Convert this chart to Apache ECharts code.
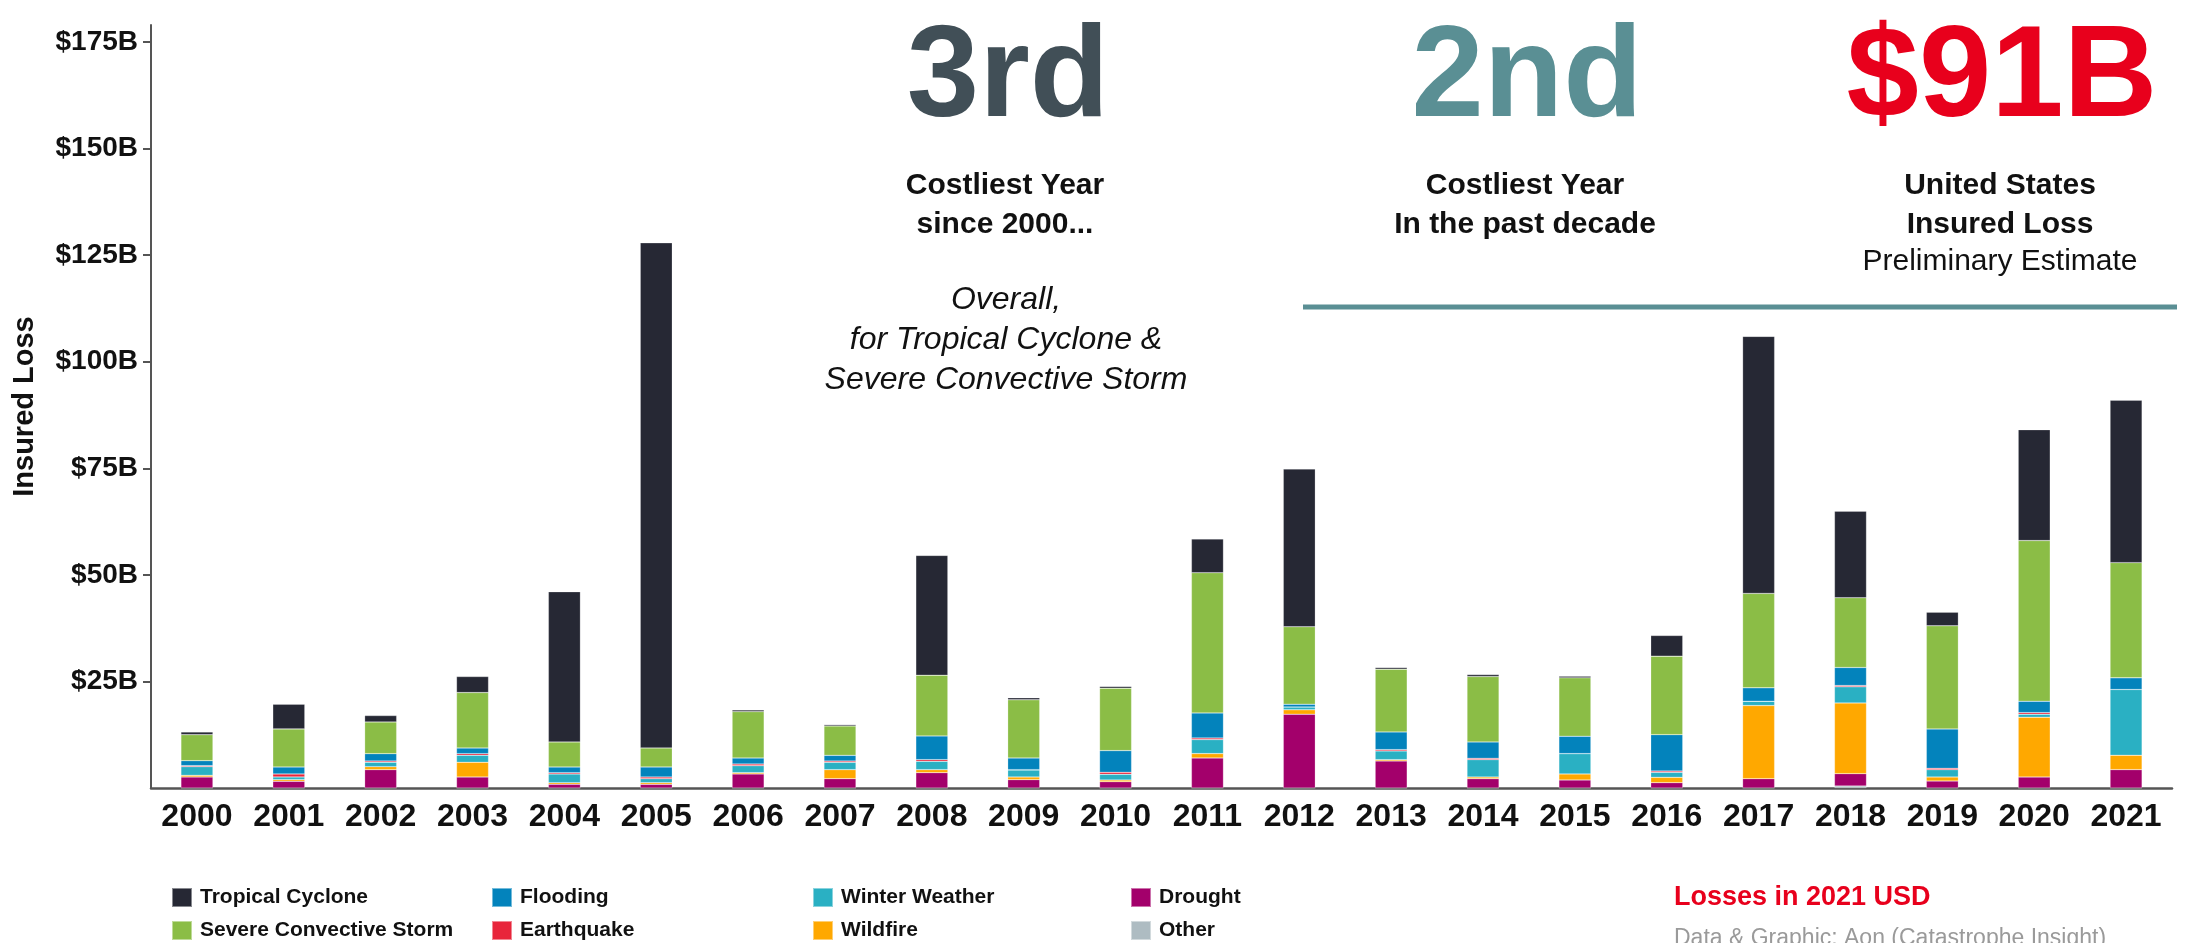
<!DOCTYPE html>
<html>
<head>
<meta charset="utf-8">
<title>US Insured Loss</title>
<script src="https://cdn.jsdelivr.net/npm/echarts@6/dist/echarts.min.js"></script>
<style>
    html, body {
        margin: 0;
        padding: 0;
        background: #fff;
    }
    #chart {
        width: 2188px;
        height: 943px;
    }
</style>
</head>
<body>
<div id="chart"></div>
<script>
// years on the x axis
const years = ['2000', '2001', '2002', '2003', '2004', '2005', '2006', '2007', '2008', '2009', '2010',
    '2011', '2012', '2013', '2014', '2015', '2016', '2017', '2018', '2019', '2020', '2021'];

// insured loss per peril, $B
const other = [0, 0, 0, 0, 0, 0, 0, 0, 0, 0, 0, 0, 0, 0, 0, 0, 0, 0, 0.47, 0, 0, 0];
const drought = [2.58, 1.57, 4.31, 2.58, 0.86, 0.86, 3.29, 2.19, 3.6, 1.96, 1.49, 7.05, 17.31, 6.34, 2.19, 1.88, 1.25, 2.19, 2.9, 1.64, 2.58, 4.31];
const wildfire = [0.39, 0.39, 0.7, 3.45, 0.39, 0.39, 0.31, 2.11, 0.7, 0.63, 0.39, 1.02, 1.02, 0.31, 0.39, 1.41, 1.25, 17.15, 16.6, 0.94, 14.02, 3.37];
const winterWeather = [2.04, 0.63, 1.02, 1.64, 2.04, 0.94, 1.64, 1.72, 1.96, 1.64, 1.33, 3.29, 0.7, 2.04, 4.07, 4.78, 1.17, 1.02, 3.76, 1.72, 0.7, 15.43];
const earthquake = [0.23, 0.7, 0.31, 0.39, 0.31, 0.39, 0.39, 0.31, 0.39, 0.08, 0.47, 0.39, 0, 0.31, 0.31, 0, 0.31, 0, 0.31, 0.31, 0.39, 0];
const flooding = [1.17, 1.64, 1.72, 1.33, 1.33, 2.35, 1.41, 1.33, 5.56, 2.74, 5.09, 5.87, 0.63, 4.15, 3.84, 4.07, 8.54, 3.13, 4.23, 9.24, 2.66, 2.74];
const severeStorm = [6.1, 8.93, 7.44, 13.0, 5.87, 4.46, 10.88, 6.89, 14.25, 13.63, 14.64, 32.89, 18.17, 14.72, 15.35, 13.7, 18.4, 22.16, 16.37, 24.2, 37.7, 27.02];
const tropicalCyclone = [0.63, 5.79, 1.49, 3.76, 35.24, 118.5, 0.39, 0.31, 28.1, 0.47, 0.39, 7.9, 37.0, 0.39, 0.47, 0.39, 4.86, 60.3, 20.3, 3.21, 26.0, 38.1];

// y axis ticks (no label at zero)
const yTicks = [25, 50, 75, 100, 125, 150, 175];

const FONT = '"Liberation Sans", Arial, Helvetica, sans-serif';

function bar(name, color, data) {
    return {
        name: name,
        type: 'bar',
        stack: 'total',
        barWidth: 32,
        itemStyle: {
            color: color,
            borderColor: 'rgba(255,255,255,0.45)',
            borderWidth: 0.5
        },
        emphasis: { disabled: true },
        data: data
    };
}

function legendCol(left, names) {
    return {
        orient: 'vertical',
        left: left,
        top: 887,
        padding: 0,
        itemGap: 12,
        itemWidth: 20,
        itemHeight: 19,
        icon: 'rect',
        selectedMode: false,
        textStyle: {
            fontFamily: FONT,
            fontSize: 21,
            fontWeight: 'bold',
            color: '#111',
            padding: [0, 0, 0, 3]
        },
        data: names
    };
}

let myChart = echarts.init(document.getElementById('chart'));

myChart.setOption({
    animation: false,
    grid: {
        left: 151,
        right: 16,
        top: 25,
        bottom: 155,
        containLabel: false
    },
    legend: [
        legendCol(171, ['Tropical Cyclone', 'Severe Convective Storm']),
        legendCol(491, ['Flooding', 'Earthquake']),
        legendCol(812, ['Winter Weather', 'Wildfire']),
        legendCol(1130, ['Drought', 'Other'])
    ],
    xAxis: {
        type: 'category',
        data: years,
        axisLine: {
            lineStyle: { color: '#555', width: 2.5 }
        },
        axisTick: { show: false },
        axisLabel: {
            interval: 0,
            margin: 13,
            fontFamily: FONT,
            fontSize: 32,
            fontWeight: 'bold',
            color: '#111'
        }
    },
    yAxis: {
        type: 'value',
        min: 0,
        max: 179,
        name: 'Insured Loss',
        nameLocation: 'middle',
        nameRotate: 90,
        nameGap: 112,
        nameTextStyle: {
            fontFamily: FONT,
            fontSize: 29,
            fontWeight: 'bold',
            color: '#111'
        },
        splitLine: { show: false },
        axisLine: {
            show: true,
            lineStyle: { color: '#555', width: 2 }
        },
        axisTick: {
            show: true,
            length: 8,
            customValues: yTicks,
            lineStyle: { color: '#555', width: 2 }
        },
        axisLabel: {
            margin: 13,
            customValues: yTicks,
            fontFamily: FONT,
            fontSize: 28,
            fontWeight: 'bold',
            color: '#111',
            formatter: function (v) {
                return '$' + v + 'B';
            }
        }
    },
    series: [
        bar('Other', '#aebcc2', other),
        bar('Drought', '#a3006b', drought),
        bar('Wildfire', '#ffa800', wildfire),
        bar('Winter Weather', '#2ab0c3', winterWeather),
        bar('Earthquake', '#e8253b', earthquake),
        bar('Flooding', '#0383bc', flooding),
        bar('Severe Convective Storm', '#8bbd46', severeStorm),
        bar('Tropical Cyclone', '#262834', tropicalCyclone)
    ],
    graphic: [
        // big headline numbers
        { type: 'text', x: 1008, y: 80, style: { text: '3rd', font: 'bold 130px ' + FONT, fill: '#414f57', align: 'center', verticalAlign: 'middle' } },
        { type: 'text', x: 1527, y: 80, style: { text: '2nd', font: 'bold 130px ' + FONT, fill: '#5a8f94', align: 'center', verticalAlign: 'middle' } },
        { type: 'text', x: 2002, y: 80, style: { text: '$91B', font: 'bold 130px ' + FONT, fill: '#e8001c', align: 'center', verticalAlign: 'middle' } },
        // captions
        { type: 'text', x: 1005, y: 205, style: { text: 'Costliest Year\nsince 2000...', font: 'bold 30px ' + FONT, lineHeight: 39, fill: '#111', align: 'center', verticalAlign: 'middle' } },
        { type: 'text', x: 1525, y: 205, style: { text: 'Costliest Year\nIn the past decade', font: 'bold 30px ' + FONT, lineHeight: 39, fill: '#111', align: 'center', verticalAlign: 'middle' } },
        { type: 'text', x: 2000, y: 205, style: { text: 'United States\nInsured Loss', font: 'bold 30px ' + FONT, lineHeight: 39, fill: '#111', align: 'center', verticalAlign: 'middle' } },
        { type: 'text', x: 2000, y: 262, style: { text: 'Preliminary Estimate', font: '30px ' + FONT, fill: '#111', align: 'center', verticalAlign: 'middle' } },
        { type: 'text', x: 1006, y: 340, style: { text: 'Overall,\nfor Tropical Cyclone &\nSevere Convective Storm', font: 'italic 32px ' + FONT, lineHeight: 40, fill: '#111', align: 'center', verticalAlign: 'middle' } },
        // divider under the "past decade" block
        { type: 'line', shape: { x1: 1303, y1: 307, x2: 2177, y2: 307 }, style: { stroke: '#5a8f94', lineWidth: 5 } },
        // footnotes
        { type: 'text', x: 1674, y: 898, style: { text: 'Losses in 2021 USD', font: 'bold 27px ' + FONT, fill: '#e8001c', align: 'left', verticalAlign: 'middle' } },
        { type: 'text', x: 1674, y: 927, style: { text: 'Data & Graphic: Aon (Catastrophe Insight)', font: '23px ' + FONT, fill: '#9a9a9a', align: 'left', verticalAlign: 'top' } }
    ]
});

//添加自适应
window.addEventListener('resize', function () {
    myChart.resize();
});
</script>
</body>
</html>
